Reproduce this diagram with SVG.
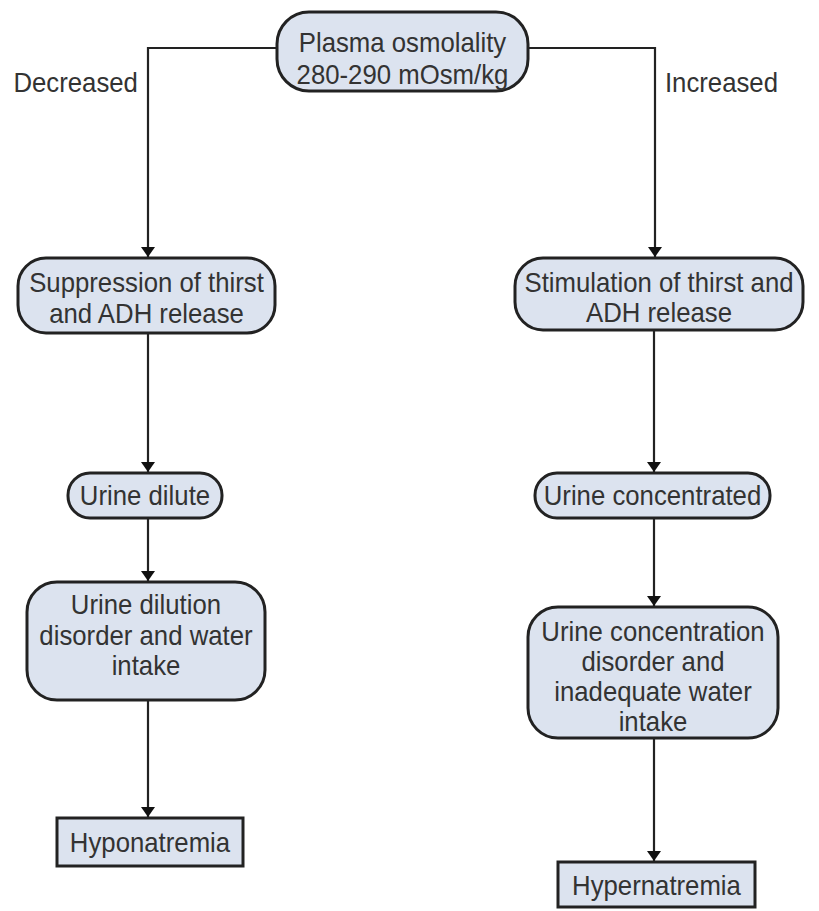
<svg xmlns="http://www.w3.org/2000/svg" width="819" height="911" viewBox="0 0 819 911">
<style>
.n{fill:#dce3ef;stroke:#222;stroke-width:3}
.t,.l{font-family:"Liberation Sans",Arial,sans-serif;font-size:28px;fill:#333;transform-box:fill-box;transform-origin:center;transform:scaleX(0.92)}
.t{text-anchor:middle}
.c{fill:none;stroke:#222;stroke-width:2.2}
</style>
<defs>
<marker id="ar" viewBox="0 0 10 14" refX="10" refY="7" markerWidth="10" markerHeight="14" markerUnits="userSpaceOnUse" orient="auto">
<path d="M0,0 L10,7 L0,14 Z" fill="#111"/>
</marker>
</defs>
<rect width="819" height="911" fill="#fff"/>
<g id="connectors">
<path class="c" d="M277,48 H148 V257" marker-end="url(#ar)"/>
<path class="c" d="M528,48 H655 V257" marker-end="url(#ar)"/>
<path class="c" d="M148,333 V472" marker-end="url(#ar)"/>
<path class="c" d="M654,330 V472" marker-end="url(#ar)"/>
<path class="c" d="M148,518 V581" marker-end="url(#ar)"/>
<path class="c" d="M654,518 V606" marker-end="url(#ar)"/>
<path class="c" d="M148,700 V817" marker-end="url(#ar)"/>
<path class="c" d="M654,738 V861" marker-end="url(#ar)"/>
</g>
<text class="l" x="8" y="92">Decreased</text>
<text class="l" x="660" y="92">Increased</text>
<g id="plasma">
<rect class="n" x="277" y="12" width="251" height="79" rx="32"/>
<text class="t" x="402.5" y="52">Plasma osmolality</text>
<text class="t" x="402.5" y="84">280-290 mOsm/kg</text>
</g>
<g id="suppression">
<rect class="n" x="18" y="258" width="257" height="75" rx="28"/>
<text class="t" x="146.5" y="292">Suppression of thirst</text>
<text class="t" x="146.5" y="323">and ADH release</text>
</g>
<g id="stimulation">
<rect class="n" x="515" y="258" width="288" height="72" rx="28"/>
<text class="t" x="659" y="292">Stimulation of thirst and</text>
<text class="t" x="659" y="322">ADH release</text>
</g>
<g id="dilute">
<rect class="n" x="68" y="473" width="154" height="45" rx="22"/>
<text class="t" x="145" y="505">Urine dilute</text>
</g>
<g id="concentrated">
<rect class="n" x="535" y="473" width="235" height="45" rx="22"/>
<text class="t" x="652.5" y="505">Urine concentrated</text>
</g>
<g id="dilution-disorder">
<rect class="n" x="27" y="582" width="238" height="118" rx="30"/>
<text class="t" x="146" y="614">Urine dilution</text>
<text class="t" x="146" y="645">disorder and water</text>
<text class="t" x="146" y="675">intake</text>
</g>
<g id="concentration-disorder">
<rect class="n" x="528" y="607" width="250" height="131" rx="30"/>
<text class="t" x="653" y="641">Urine concentration</text>
<text class="t" x="653" y="671">disorder and</text>
<text class="t" x="653" y="701">inadequate water</text>
<text class="t" x="653" y="731">intake</text>
</g>
<g id="hyponatremia">
<rect class="n" x="57" y="818" width="186" height="48"/>
<text class="t" x="150" y="852">Hyponatremia</text>
</g>
<g id="hypernatremia">
<rect class="n" x="558" y="862" width="197" height="45"/>
<text class="t" x="656.5" y="895">Hypernatremia</text>
</g>
</svg>
